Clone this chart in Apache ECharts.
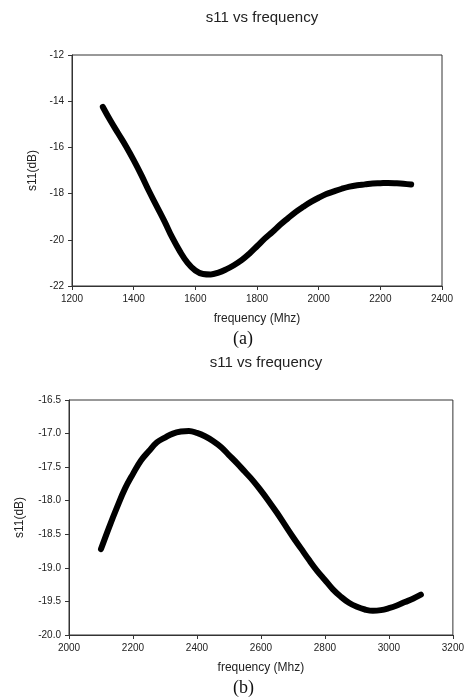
<!DOCTYPE html>
<html>
<head>
<meta charset="utf-8">
<script src="https://cdn.jsdelivr.net/npm/echarts@6/dist/echarts.min.js"></script>
<style>
html,body{margin:0;padding:0;background:#fff;}
#c{width:467px;height:700px;}
</style>
</head>
<body>
<div id="c"></div>
<script>
// Chart (a)
var freqA = [1300,1325,1350,1375,1400,1425,1450,1475,1500,1525,1550,1575,1600,1625,1650,1675,1700,1725,1750,1775,1800,1825,1850,1875,1900,1925,1950,1975,2000,2025,2050,2075,2100,2125,2150,2175,2200,2225,2250,2275,2300];
var s11A  = [-14.25,-14.85,-15.4,-15.95,-16.55,-17.2,-17.9,-18.55,-19.2,-19.9,-20.5,-21.0,-21.33,-21.48,-21.5,-21.42,-21.28,-21.1,-20.88,-20.6,-20.28,-19.95,-19.66,-19.35,-19.07,-18.8,-18.57,-18.36,-18.18,-18.02,-17.9,-17.79,-17.7,-17.64,-17.6,-17.56,-17.55,-17.54,-17.55,-17.57,-17.61];
// Chart (b)
var freqB = [2100,2125,2150,2175,2200,2225,2250,2275,2300,2325,2350,2375,2400,2425,2450,2475,2500,2525,2550,2575,2600,2625,2650,2675,2700,2725,2750,2775,2800,2825,2850,2875,2900,2925,2950,2975,3000,3025,3050,3075,3100];
var s11B  = [-18.72,-18.4,-18.1,-17.82,-17.6,-17.4,-17.26,-17.13,-17.06,-17.0,-16.97,-16.96,-16.99,-17.04,-17.11,-17.2,-17.32,-17.44,-17.57,-17.7,-17.85,-18.01,-18.18,-18.36,-18.54,-18.71,-18.88,-19.04,-19.18,-19.32,-19.43,-19.52,-19.58,-19.62,-19.64,-19.63,-19.6,-19.56,-19.51,-19.46,-19.4];

var titleText = 's11 vs frequency';
var xName = 'frequency (Mhz)';
var yName = 's11(dB)';
var captions = ['(a)', '(b)'];

function pairs(xs, ys){ return xs.map(function(x,i){ return [x, ys[i]]; }); }

var sans = 'Liberation Sans, Arial, sans-serif';
var axisColor = '#333';

function xAx(idx, min, max){
  return {
    type:'value', gridIndex:idx, min:min, max:max, interval:200,
    name:xName, nameLocation:'middle', nameGap:27,
    nameTextStyle:{fontFamily:sans, fontSize:12, color:'#222'},
    axisLine:{show:true, lineStyle:{color:axisColor, width:1}},
    axisTick:{show:true, inside:false, length:4, lineStyle:{color:axisColor}},
    axisLabel:{fontFamily:sans, fontSize:10, color:'#222', margin:8,
      formatter:function(v){ return String(v); }},
    splitLine:{show:false}
  };
}
function yAx(idx, min, max, interval, gap, dec){
  return {
    type:'value', gridIndex:idx, min:min, max:max, interval:interval,
    name:yName, nameLocation:'middle', nameGap:gap, nameRotate:90,
    nameTextStyle:{fontFamily:sans, fontSize:12, color:'#222'},
    axisLine:{show:true, lineStyle:{color:axisColor, width:1}},
    axisTick:{show:true, inside:false, length:4, lineStyle:{color:axisColor}},
    axisLabel:{fontFamily:sans, fontSize:10, color:'#222', margin:8,
      formatter:function(v){ return dec ? v.toFixed(dec) : String(v); }},
    splitLine:{show:false}
  };
}
function lineSeries(idx, data){
  return {
    type:'line', xAxisIndex:idx, yAxisIndex:idx, data:data,
    smooth:0.4, showSymbol:false, symbol:'none',
    lineStyle:{color:'#000', width:6, cap:'round', join:'round'},
    animation:false
  };
}

var chart = echarts.init(document.getElementById('c'), null, {renderer:'canvas'});
chart.setOption({
  animation:false,
  backgroundColor:'#fff',
  title:[
    {text:titleText, left:257, top:5, textAlign:'center',
     textStyle:{fontFamily:sans, fontSize:15, fontWeight:'normal', color:'#222'}},
    {text:titleText, left:261, top:350, textAlign:'center',
     textStyle:{fontFamily:sans, fontSize:15, fontWeight:'normal', color:'#222'}}
  ],
  grid:[
    {left:72, top:55, width:370, height:231, show:true, borderColor:axisColor, borderWidth:1, backgroundColor:'#fff'},
    {left:69, top:400, width:385, height:235, show:true, borderColor:axisColor, borderWidth:1, backgroundColor:'#fff'}
  ],
  xAxis:[ xAx(0, 1200, 2400), xAx(1, 2000, 3200) ],
  yAxis:[ yAx(0, -22, -12, 2, 31, 0), yAx(1, -20, -16.5, 0.5, 43, 1) ],
  series:[ lineSeries(0, pairs(freqA, s11A)), lineSeries(1, pairs(freqB, s11B)) ],
  graphic:[
    {type:'text', left:233, top:330, style:{text:captions[0], font:'18px "Liberation Serif", "Times New Roman", serif', fill:'#111'}},
    {type:'text', left:233, top:679, style:{text:captions[1], font:'18px "Liberation Serif", "Times New Roman", serif', fill:'#111'}}
  ]
});
</script>
</body>
</html>
